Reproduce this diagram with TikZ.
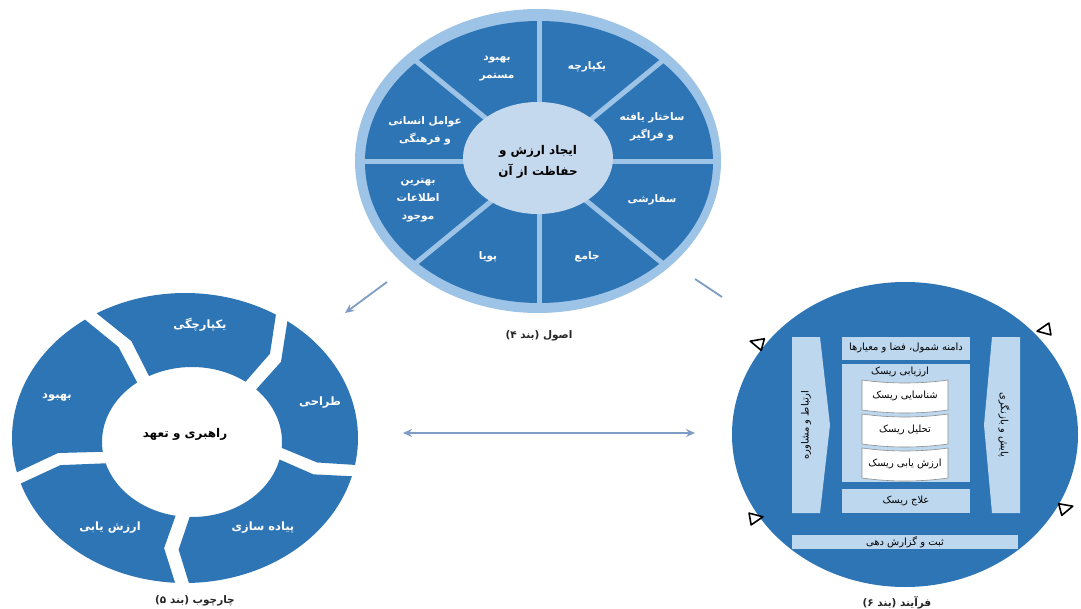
\documentclass[tikz,border=0pt]{standalone}
\usepackage{fontspec}
\TeXXeTstate=1
\newfontfamily\fa[Script=Arabic]{DejaVu Sans}
\usetikzlibrary{arrows.meta}
\definecolor{dblue}{HTML}{2E75B6}
\definecolor{lblue}{HTML}{BDD7EE}
\definecolor{rblue}{HTML}{9DC3E6}
\definecolor{cblue}{HTML}{C5D9EE}
\definecolor{arrowc}{HTML}{7F9DC4}
\newcommand\fatxt[1]{\beginR #1\endR}
\newcommand\fwseg[6]{%
  \fill[dblue] plot[domain=#1:#4, samples=40, variable=\t] ({fwx(\t,0)},{fwy(\t,0)})
   -- ({fwx(#5,0.5)},{fwy(#5,0.5)})
   -- plot[domain=#6:#3, samples=40, variable=\t] ({fwx(\t,1)},{fwy(\t,1)})
   -- ({fwx(#2,0.5)},{fwy(#2,0.5)}) -- cycle;}
\newcommand\cyctri[3]{\begin{scope}[shift={(#1,#2)}, rotate=#3]
  \draw[tribox] (7,0) -- (-6,6) -- (-6,-6) -- cycle; \end{scope}}
\tikzset{
  wtext/.style={font=\fa\bfseries\fontsize{10.5}{18}\selectfont, text=white, align=center, inner sep=0pt},
  fwtext/.style={font=\fa\bfseries\fontsize{11.5}{18}\selectfont, text=white, align=center, inner sep=0pt},
  btext/.style={font=\fa\bfseries\fontsize{12}{21}\selectfont, text=black, align=center, inner sep=0pt},
  ptext/.style={font=\fa\fontsize{10}{12}\selectfont, text=black, align=center, inner sep=0pt},
  captext/.style={font=\fa\bfseries\fontsize{10.5}{13}\selectfont, text=black!85, align=center, inner sep=0pt},
  conn/.style={draw=arrowc, line width=1.8bp},
  tipc/.style={-{Stealth[length=9bp,width=8bp]}},
  tipb/.style={{Stealth[length=9bp,width=8bp]}-{Stealth[length=9bp,width=8bp]}},
  tribox/.style={draw=black, fill=white, line width=1.6bp, line join=round},
}
\begin{document}
\begin{tikzpicture}[x=1bp,y=-1bp,
  declare function={fwx(\a,\b)=185+7*\b+(173-83*\b)*cos(\a);
                    fwy(\a,\b)=438+4*\b+(145-70*\b)*sin(\a);}]
\useasboundingbox (0,0) rectangle (1081,609);
\fill[white] (0,0) rectangle (1081,609);

% ---------- Principles ----------
\fill[rblue] (538,161) ellipse[x radius=183, y radius=152];
\fill[dblue] (539,162) ellipse[x radius=174, y radius=141];
\foreach \a in {0,45,...,315}
  \draw[rblue, line width=5bp] (539,162) -- ++({178*cos(\a)},{146*sin(\a)});
\fill[cblue] (538,158) ellipse[x radius=75, y radius=56];
\node[btext] (pc) at (538,162) {\fatxt{ایجاد ارزش و}\\\fatxt{حفاظت از آن}};
\node[wtext] (p1) at (587,67) {\fatxt{یکپارچه}};
\node[wtext] (p2) at (652,127) {\fatxt{ساختار یافته}\\\fatxt{و فراگیر}};
\node[wtext] (p3) at (652,200) {\fatxt{سفارشی}};
\node[wtext] (p4) at (587,257) {\fatxt{جامع}};
\node[wtext] (p5) at (488,257) {\fatxt{پویا}};
\node[wtext] (p6) at (418,200) {\fatxt{بهترین}\\\fatxt{اطلاعات}\\\fatxt{موجود}};
\node[wtext] (p7) at (425,131) {\fatxt{عوامل انسانی}\\\fatxt{و فرهنگی}};
\node[wtext] (p8) at (497,69) {\fatxt{بهبود}\\\fatxt{مستمر}};
\node[captext] (pcap) at (539,336) {\fatxt{اصول (بند ۴)}};

% ---------- Framework ----------
\fwseg{239.3}{244.2}{241.5}{301.7}{308.3}{306.5}
\fwseg{-53.7}{-45.3}{-44.5}{10.7}{11.8}{4.5}
\fwseg{15.3}{18.2}{13.5}{88.7}{94.3}{91.5}
\fwseg{93.3}{100.7}{100.5}{161.7}{166.8}{163.5}
\fwseg{166.3}{173.2}{172.5}{234.7}{237.8}{232.5}
\node[fwtext] (f1) at (200,325) {\fatxt{یکپارچگی}};
\node[fwtext] (f2) at (320,403) {\fatxt{طراحی}};
\node[fwtext] (f3) at (263,528) {\fatxt{پیاده سازی}};
\node[fwtext] (f4) at (110,528) {\fatxt{ارزش یابی}};
\node[fwtext] (f5) at (57,398) {\fatxt{بهبود}};
\node[btext] (fc) at (185,434) {\fatxt{راهبری و تعهد}};
\node[captext] (fcap) at (195,601) {\fatxt{چارچوب (بند ۵)}};

% ---------- Process ----------
\fill[dblue] (905,434.5) ellipse[x radius=173, y radius=152.5];
\fill[lblue] (792,337) -- (820,337) -- (830,425) -- (820,513) -- (792,513) -- cycle;
\fill[lblue] (992,337) -- (1020,337) -- (1020,513) -- (992,513) -- (984,425) -- cycle;
\fill[lblue] (842,337) rectangle (970,360);
\fill[lblue] (842,364) rectangle (970,482);
\fill[lblue] (842,489) rectangle (970,513);
\fill[lblue] (792,535) rectangle (1018,549);
\foreach \ya/\yb in {380/410,414/444,448/478}
  \filldraw[fill=white, draw=black!45, line width=0.6bp]
    (862,\ya) .. controls (890,\ya+4) and (920,\ya+4) .. (948,\ya)
    -- (948,\yb) .. controls (920,\yb+4) and (890,\yb+4) .. (862,\yb) -- cycle;
\node[ptext] (r1) at (906,348) {\fatxt{دامنه شمول، فضا و معیارها}};
\node[ptext] (r2) at (900,372) {\fatxt{ارزیابی ریسک}};
\node[ptext] (r3) at (905,396) {\fatxt{شناسایی ریسک}};
\node[ptext] (r4) at (905,430) {\fatxt{تحلیل ریسک}};
\node[ptext] (r5) at (905,464) {\fatxt{ارزش یابی ریسک}};
\node[ptext] (r6) at (906,501) {\fatxt{علاج ریسک}};
\node[ptext] (r7) at (905,542) {\fatxt{ثبت و گزارش دهی}};
\node[ptext, rotate=90] (r8) at (806,425) {\fatxt{ارتباط و مشاوره}};
\node[ptext, rotate=-90] (r9) at (1004,425) {\fatxt{پایش و بازنگری}};
\node[captext] (rcap) at (897,603) {\fatxt{فرآیند (بند ۶)}};
\cyctri{757}{343}{165}
\cyctri{1044}{330}{190}
\cyctri{1066}{508}{15}
\cyctri{756}{518}{10}

% ---------- Connectors ----------
\coordinate (pf1) at (387,282); \coordinate (pf2) at (345,313);
\draw[conn, tipc] (pf1) -- (pf2);
\coordinate (pp1) at (695,279); \coordinate (pp2) at (722,297);
\draw[conn] (pp1) -- (pp2);
\coordinate (h1) at (403,433); \coordinate (h2) at (695,433);
\draw[conn, line width=1.5bp, tipb] (h1) -- (h2);
\end{tikzpicture}
\end{document}
